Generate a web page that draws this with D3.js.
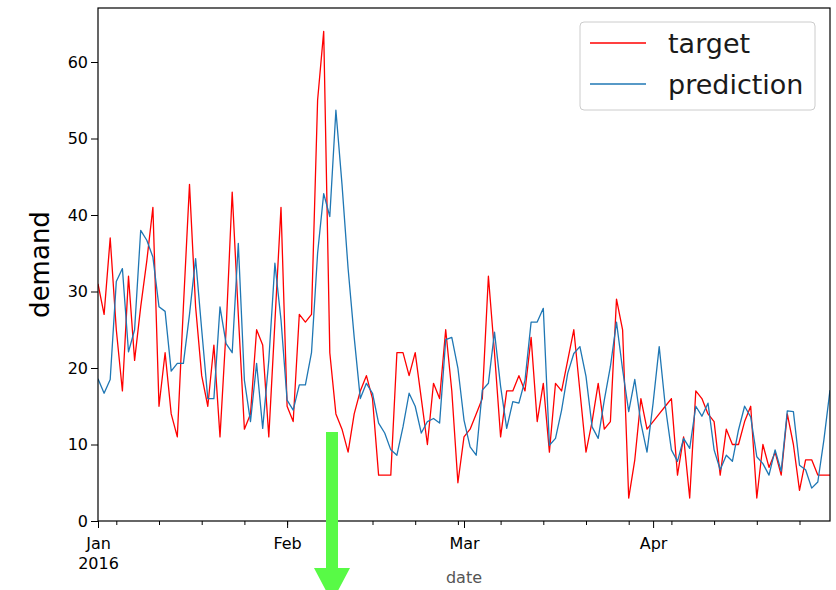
<!DOCTYPE html>
<html>
<head>
<meta charset="utf-8">
<script src="https://cdn.jsdelivr.net/npm/d3@7"></script>
<style>
  body { margin: 0; background: #fff; }
  svg { display: block; font-family: "DejaVu Sans", sans-serif; }
</style>
</head>
<body>
<svg id="chart" width="836" height="590"></svg>
<script>
// daily values, 2016-01-01 .. 2016-04-30
const startDate = new Date(2016, 0, 1);
const target = [
  31, 27, 37, 25, 17, 32, 21, 28, 34, 41, 15, 22, 14, 11, 28, 44, 28, 19, 15, 23, 11,
  25, 43, 27, 12, 14, 25, 23, 11, 26, 41, 15, 13, 27, 26, 27, 55, 64, 22, 14, 12,
  9, 14, 17, 19, 16, 6, 6, 6, 22, 22, 19, 22, 16, 10, 18, 16, 25, 17, 5,
  11, 12, 14, 16, 32, 22, 11, 17, 17, 19, 17, 24, 13, 18, 9, 18, 17, 21, 25, 17,
  9, 13, 18, 12, 13, 29, 25, 3, 8, 16, 12, 13, 14, 15, 16, 6, 11, 3, 17, 16,
  14, 13, 6, 12, 10, 10, 13, 15, 3, 10, 7, 9, 6, 14, 10, 4, 8, 8, 6, 6, 6
];
const prediction = [
  18.6, 16.7, 18.5, 31.3, 33, 22.1, 25, 38, 36.7, 34.5, 28, 27.4, 19.6, 20.6, 20.6, 27, 34.3, 25, 16, 16, 28,
  23.2, 22, 36.3, 18.4, 13, 20.6, 12.1, 21, 33.7, 26.3, 15.8, 14.5, 17.8, 17.8, 22, 35, 42.8, 39.8, 53.7, 44,
  33, 24, 16, 18, 16.7, 12.8, 11.5, 9.3, 8.6, 12.3, 16.7, 15, 11.5, 13, 13.4, 12.8, 23.7, 24, 20,
  13.2, 9.7, 8.6, 17.1, 18, 24.7, 17.6, 12.1, 15.6, 15.4, 18.4, 26, 26, 27.8, 9.9, 10.8, 14.5, 19.3, 21.9, 22.8,
  18.9, 12.3, 10.8, 15.8, 20.2, 26, 19.8, 14.3, 18.5, 12.8, 9, 15.4, 22.8, 15, 9.3, 7.8, 10.8, 9.5, 15, 13.7,
  15.4, 9.3, 6.7, 8.6, 7.8, 11.9, 15, 13.6, 8.4, 7.5, 6, 9.3, 6.5, 14.4, 14.3, 7.3, 6.7, 4.3, 5.1, 10.6, 17.1
];
const yTicks = [0, 10, 20, 30, 40, 50, 60];
const monthLabels = ["Jan", "Feb", "Mar", "Apr"];
const seriesNames = ["target", "prediction"];
const seriesColors = ["#ff0000", "#1f77b4"];

const dates = target.map((_, i) => d3.timeDay.offset(startDate, i));

const svg = d3.select("#chart");
const margin = { top: 8, right: 6, bottom: 69, left: 98 };
const W = 836, H = 590;
const x0 = margin.left, x1 = W - margin.right;
const y0 = margin.top, y1 = H - margin.bottom;

const x = d3.scaleTime()
  .domain([dates[0], dates[dates.length - 1]])
  .range([x0, x1]);
const y = d3.scaleLinear()
  .domain([0, 67.06])
  .range([y1, y0]);

svg.append("clipPath").attr("id", "clip")
  .append("rect").attr("x", x0).attr("y", y0)
  .attr("width", x1 - x0).attr("height", y1 - y0);

// lines
const line = d3.line().x((d, i) => x(dates[i])).y(d => y(d));
[target, prediction].forEach((s, k) => {
  svg.append("path")
    .datum(s)
    .attr("clip-path", "url(#clip)")
    .attr("fill", "none")
    .attr("stroke", seriesColors[k])
    .attr("stroke-width", 1.3)
    .attr("stroke-linejoin", "round")
    .attr("d", line);
});

// minor ticks on Mondays
const mondays = d3.timeMonday.range(dates[0], d3.timeDay.offset(dates[dates.length - 1], 1));
svg.append("g")
  .attr("transform", `translate(0,${y1})`)
  .call(d3.axisBottom(x).tickValues(mondays).tickSize(4).tickFormat(""))
  .call(g => g.select(".domain").remove())
  .call(g => g.selectAll("line").attr("stroke", "#000").attr("stroke-width", 1));

// major ticks at month starts
const monthStarts = d3.timeMonth.range(dates[0], d3.timeDay.offset(dates[dates.length - 1], 1));
const xAxis = svg.append("g")
  .attr("transform", `translate(0,${y1})`)
  .call(d3.axisBottom(x).tickValues(monthStarts).tickSize(7)
    .tickFormat((d, i) => monthLabels[i]))
  .call(g => g.select(".domain").remove());
xAxis.selectAll("line").attr("stroke", "#000").attr("stroke-width", 1);
xAxis.selectAll("text")
  .attr("y", 28).attr("dy", 0)
  .attr("fill", "#000")
  .style("font-size", "16px")
  .style("font-family", "DejaVu Sans");
xAxis.selectAll(".tick").filter((d, i) => i === 0).select("text")
  .append("tspan").attr("x", 0).attr("dy", 20).text("2016");

// y axis
const yAxis = svg.append("g")
  .attr("transform", `translate(${x0},0)`)
  .call(d3.axisLeft(y).tickValues(yTicks).tickSize(7).tickPadding(3))
  .call(g => g.select(".domain").remove());
yAxis.selectAll("line").attr("stroke", "#000").attr("stroke-width", 1);
yAxis.selectAll("text")
  .attr("fill", "#000")
  .style("font-size", "16px")
  .style("font-family", "DejaVu Sans");

// frame
svg.append("rect")
  .attr("x", x0).attr("y", y0)
  .attr("width", x1 - x0).attr("height", y1 - y0)
  .attr("fill", "none").attr("stroke", "#000").attr("stroke-width", 1.2);

// axis labels
svg.append("text")
  .attr("transform", `translate(49,${(y0 + y1) / 2}) rotate(-90)`)
  .attr("text-anchor", "middle")
  .style("font-size", "26px")
  .text("demand");
svg.append("text")
  .attr("x", (x0 + x1) / 2).attr("y", 583)
  .attr("text-anchor", "middle")
  .attr("fill", "#555")
  .style("font-size", "16px")
  .text("date");

// legend
const lg = svg.append("g");
lg.append("rect")
  .attr("x", 580).attr("y", 22).attr("width", 235).attr("height", 88).attr("rx", 4)
  .attr("fill", "#fff").attr("fill-opacity", 0.8)
  .attr("stroke", "#cccccc").attr("stroke-width", 1);
seriesNames.forEach((name, k) => {
  const ly = 43 + k * 41;
  lg.append("line")
    .attr("x1", 590).attr("x2", 646).attr("y1", ly).attr("y2", ly)
    .attr("stroke", seriesColors[k]).attr("stroke-width", 1.3);
  lg.append("text")
    .attr("x", 668).attr("y", ly + 10)
    .style("font-size", "27px")
    .attr("fill", "#1a1a1a")
    .text(name);
});

// green annotation arrow
svg.append("polygon")
  .attr("points", "326,432 338,432 338,568 350,568 332,602 314,568 326,568")
  .attr("fill", "#58fa46");
</script>
</body>
</html>
